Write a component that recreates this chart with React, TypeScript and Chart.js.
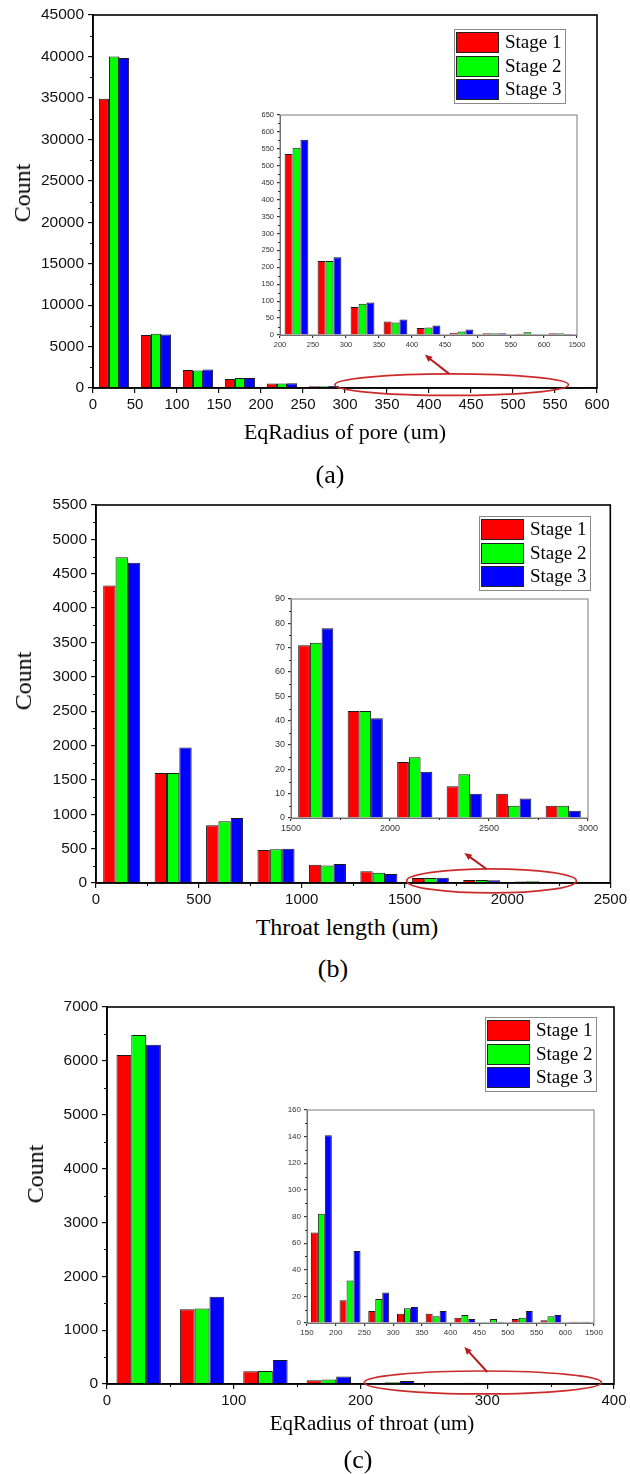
import React, { useEffect, useRef } from "react";
import { Chart, registerables } from "chart.js";

Chart.register(...registerables);

const SANS = "'Liberation Sans', Arial, sans-serif";
const SERIF = "'Liberation Serif', 'Times New Roman', serif";

const stageLabels = ["Stage 1", "Stage 2", "Stage 3"];
const stageColors = ["#ff0000", "#00ff00", "#0000ff"];

// (a) equivalent radius of pores — bin edges (um) and counts per stage
const poreEdges = [0, 50, 100, 150, 200, 250, 300, 350, 400, 450, 500, 550, 600, 1500];
const poreStage1 = [34900, 6400, 2180, 1090, 535, 219, 83, 40, 21, 7, 5, 4, 5];
const poreStage2 = [40000, 6550, 2100, 1210, 553, 219, 92, 37, 22, 10, 5, 8, 5];
const poreStage3 = [39800, 6450, 2220, 1210, 577, 230, 96, 46, 28, 16, 5, 2, 3];

// (b) throat length — bin edges (um) and counts per stage
const lengthEdges = [0, 250, 500, 750, 1000, 1250, 1500, 1750, 2000, 2250, 2500, 2750, 3000];
const lengthStage1 = [4330, 1600, 840, 480, 265, 170, 71, 44, 23, 13, 10, 5];
const lengthStage2 = [4740, 1600, 900, 490, 255, 150, 72, 44, 25, 18, 5, 5];
const lengthStage3 = [4660, 1970, 945, 500, 275, 130, 78, 41, 19, 10, 8, 3];

// (c) equivalent radius of throats — bin edges (um) and counts per stage
const throatEdges = [0, 50, 100, 150, 200, 250, 300, 350, 400, 450, 500, 550, 600, 1500];
const throatStage1 = [6110, 1390, 235, 68, 17, 9, 7, 7, 4, 0, 3, 2, 1];
const throatStage2 = [6480, 1400, 240, 82, 32, 18, 11, 5, 6, 3, 4, 5, 1];
const throatStage3 = [6300, 1620, 445, 141, 54, 23, 12, 9, 3, 1, 9, 6, 1];

type Pt = { x: number; y: number };

// bins lying inside [from, to], placed at their centre value
function binsInRange(edges: number[], counts: number[], from: number, to: number): Pt[] {
  const out: Pt[] = [];
  counts.forEach((c, i) => {
    if (edges[i] >= from && edges[i + 1] <= to) out.push({ x: (edges[i] + edges[i + 1]) / 2, y: c });
  });
  return out;
}

// bins from edge index `first` onward, one equal-width slot per bin
function binsBySlot(counts: number[], first: number): Pt[] {
  return counts.slice(first).map((c, k) => ({ x: k + 0.5, y: c }));
}

function makeDatasets(series: Pt[][], catPct: number) {
  return series.map((data, i) => ({
    label: stageLabels[i],
    data,
    backgroundColor: stageColors[i],
    borderColor: "#1a1a1a",
    borderWidth: 1,
    borderSkipped: "start",
    categoryPercentage: catPct,
    barPercentage: 1,
  }));
}

type AxisOpts = {
  dir: "x" | "y";
  min: number;
  max: number;
  step: number;
  fontSize: number;
  fixed: number;
  tickLen: number;
  pad: number;
  tickColor: string;
  borderColor: string;
  borderWidth: number;
  labelColor: string;
  label?: (v: number) => string;
};

function axis(o: AxisOpts) {
  return {
    type: "linear",
    min: o.min,
    max: o.max,
    offset: false,
    grid: {
      display: true,
      drawOnChartArea: false,
      drawTicks: true,
      tickLength: o.tickLen,
      color: o.tickColor,
      lineWidth: 1.2,
      offset: false,
    },
    border: { display: true, color: o.borderColor, width: o.borderWidth },
    ticks: {
      stepSize: o.step,
      autoSkip: false,
      maxRotation: 0,
      minRotation: 0,
      padding: o.pad,
      color: o.labelColor,
      font: { family: SANS, size: o.fontSize },
      callback: (v: number) => (o.label ? o.label(v) : String(v)),
    },
    afterFit: (s: any) => {
      if (o.dir === "x") s.height = o.fixed;
      else s.width = o.fixed;
    },
  };
}

function framePlugin(color: string, width: number) {
  return {
    id: "frame",
    afterDraw(chart: any) {
      const { ctx, chartArea: a } = chart;
      ctx.save();
      ctx.strokeStyle = color;
      ctx.lineWidth = width;
      ctx.strokeRect(a.left, a.top, a.right - a.left, a.bottom - a.top);
      ctx.restore();
    },
  };
}

type MinorCfg = { xMinor?: number; xMajor?: number; yMinor?: number; yMajor?: number; len: number; color: string };

function minorTicksPlugin(cfg: MinorCfg) {
  const isMajor = (v: number, major?: number) => {
    if (!major) return false;
    const r = Math.abs(v % major);
    return r < 1e-6 || Math.abs(r - major) < 1e-6;
  };
  return {
    id: "minorTicks",
    afterDraw(chart: any) {
      const { ctx, chartArea: a } = chart;
      const xs = chart.scales.x;
      const ys = chart.scales.y;
      ctx.save();
      ctx.strokeStyle = cfg.color;
      ctx.lineWidth = 1.1;
      ctx.beginPath();
      if (cfg.xMinor) {
        for (let v = xs.min; v <= xs.max + 1e-6; v += cfg.xMinor) {
          if (isMajor(v, cfg.xMajor)) continue;
          const p = Math.round(xs.getPixelForValue(v)) + 0.5;
          ctx.moveTo(p, a.bottom);
          ctx.lineTo(p, a.bottom + cfg.len);
        }
      }
      if (cfg.yMinor) {
        for (let v = ys.min; v <= ys.max + 1e-6; v += cfg.yMinor) {
          if (isMajor(v, cfg.yMajor)) continue;
          const p = Math.round(ys.getPixelForValue(v)) + 0.5;
          ctx.moveTo(a.left, p);
          ctx.lineTo(a.left - cfg.len, p);
        }
      }
      ctx.stroke();
      ctx.restore();
    },
  };
}

function legendPlugin(right: number, top: number) {
  return {
    id: "boxLegend",
    afterDraw(chart: any) {
      const { ctx, chartArea: a } = chart;
      const w = 111;
      const h = 74;
      const rowH = 23.5;
      const sw = 43;
      const sh = 21;
      const x0 = Math.round(a.right - right - w);
      const y0 = Math.round(a.top + top);
      ctx.save();
      ctx.fillStyle = "#ffffff";
      ctx.fillRect(x0, y0, w, h);
      ctx.strokeStyle = "#8a8a8a";
      ctx.lineWidth = 1;
      ctx.strokeRect(x0 + 0.5, y0 + 0.5, w, h);
      ctx.font = `19px ${SERIF}`;
      ctx.textBaseline = "middle";
      chart.data.datasets.forEach((ds: any, i: number) => {
        const y = Math.round(y0 + 3 + i * rowH);
        ctx.fillStyle = ds.backgroundColor;
        ctx.fillRect(x0 + 2, y, sw, sh);
        ctx.strokeStyle = "#222";
        ctx.strokeRect(x0 + 2.5, y + 0.5, sw - 1, sh - 1);
        ctx.fillStyle = "#000";
        ctx.fillText(ds.label, x0 + 2 + sw + 6, y + sh / 2 + 1);
      });
      ctx.restore();
    },
  };
}

type Callout = { x0: number; x1: number; yc: number; ry: number; ax0: number; ay0: number; ax1: number; ay1: number };

// red ellipse around the zoomed range and an arrow pointing at the inset
function calloutPlugin(c: Callout) {
  return {
    id: "callout",
    afterDraw(chart: any) {
      const { ctx } = chart;
      const xs = chart.scales.x;
      const ys = chart.scales.y;
      const px0 = xs.getPixelForValue(c.x0);
      const px1 = xs.getPixelForValue(c.x1);
      const cy = ys.getPixelForValue(c.yc);
      const ry = ys.getPixelForValue(0) - ys.getPixelForValue(c.ry);
      ctx.save();
      ctx.strokeStyle = "#cc2b2b";
      ctx.lineWidth = 1.7;
      ctx.beginPath();
      ctx.ellipse((px0 + px1) / 2, cy, (px1 - px0) / 2, ry, 0, 0, Math.PI * 2);
      ctx.stroke();
      const sx = xs.getPixelForValue(c.ax0);
      const sy = ys.getPixelForValue(c.ay0);
      const ex = xs.getPixelForValue(c.ax1);
      const ey = ys.getPixelForValue(c.ay1);
      const ang = Math.atan2(ey - sy, ex - sx);
      const head = 8;
      ctx.strokeStyle = "#b51d1d";
      ctx.fillStyle = "#b51d1d";
      ctx.lineWidth = 2;
      ctx.beginPath();
      ctx.moveTo(sx, sy);
      ctx.lineTo(ex - Math.cos(ang) * head * 0.7, ey - Math.sin(ang) * head * 0.7);
      ctx.stroke();
      ctx.beginPath();
      ctx.moveTo(ex, ey);
      ctx.lineTo(ex - head * Math.cos(ang - 0.42), ey - head * Math.sin(ang - 0.42));
      ctx.lineTo(ex - head * Math.cos(ang + 0.42), ey - head * Math.sin(ang + 0.42));
      ctx.closePath();
      ctx.fill();
      ctx.restore();
    },
  };
}

type Box = { left: number; top: number; width: number; height: number };
// plot area in page coordinates
type Area = { L: number; T: number; R: number; B: number };

function baseOptions(box: Box, area: Area, x: any, y: any) {
  return {
    animation: false,
    responsive: false,
    devicePixelRatio: 1,
    layout: {
      padding: { left: 0, top: area.T - box.top, right: box.left + box.width - area.R, bottom: 0 },
    },
    plugins: { legend: { display: false }, tooltip: { enabled: false } },
    scales: { x, y },
  };
}

type MainSpec = {
  box: Box;
  area: Area;
  series: Pt[][];
  catPct: number;
  xMax: number;
  xStep: number;
  xMinor?: number;
  yMax: number;
  yStep: number;
  yMinor: number;
  legend: { right: number; top: number };
  callout: Callout;
};

function mainConfig(s: MainSpec) {
  const { box, area } = s;
  const x = axis({
    dir: "x", min: 0, max: s.xMax, step: s.xStep, fontSize: 15, fixed: box.top + box.height - area.B,
    tickLen: 5, pad: 3, tickColor: "#111", borderColor: "#000", borderWidth: 1.6, labelColor: "#111",
  });
  const y = axis({
    dir: "y", min: 0, max: s.yMax, step: s.yStep, fontSize: 15.5, fixed: area.L - box.left,
    tickLen: 5, pad: 4, tickColor: "#111", borderColor: "#000", borderWidth: 1.6, labelColor: "#111",
  });
  return {
    type: "bar",
    data: { datasets: makeDatasets(s.series, s.catPct) },
    options: baseOptions(box, area, x, y),
    plugins: [
      framePlugin("#000", 1.6),
      minorTicksPlugin({ xMinor: s.xMinor, xMajor: s.xStep, yMinor: s.yMinor, yMajor: s.yStep, len: 3, color: "#111" }),
      legendPlugin(s.legend.right, s.legend.top),
      calloutPlugin(s.callout),
    ],
  };
}

type InsetSpec = {
  box: Box;
  area: Area;
  series: Pt[][];
  catPct: number;
  xMin: number;
  xMax: number;
  xStep: number;
  xMinor?: number;
  xLabel?: (v: number) => string;
  yMax: number;
  yStep: number;
  yMinor: number;
  fontSize: number;
};

function insetConfig(s: InsetSpec) {
  const { box, area } = s;
  const x = axis({
    dir: "x", min: s.xMin, max: s.xMax, step: s.xStep, fontSize: s.fontSize, fixed: box.top + box.height - area.B,
    tickLen: 3, pad: 2, tickColor: "#333", borderColor: "#666", borderWidth: 1, labelColor: "#333", label: s.xLabel,
  });
  const y = axis({
    dir: "y", min: 0, max: s.yMax, step: s.yStep, fontSize: s.fontSize, fixed: area.L - box.left,
    tickLen: 3, pad: 3, tickColor: "#333", borderColor: "#666", borderWidth: 1, labelColor: "#333",
  });
  return {
    type: "bar",
    data: { datasets: makeDatasets(s.series, s.catPct) },
    options: baseOptions(box, area, x, y),
    plugins: [
      framePlugin("#7a7a7a", 1),
      minorTicksPlugin({ xMinor: s.xMinor, xMajor: s.xStep, yMinor: s.yMinor, yMajor: s.yStep, len: 2, color: "#333" }),
    ],
  };
}

function ChartBox({ box, build }: { box: Box; build: () => any }) {
  const ref = useRef<HTMLCanvasElement>(null);
  useEffect(() => {
    const chart = new Chart(ref.current as HTMLCanvasElement, build());
    return () => chart.destroy();
  }, []);
  return (
    <canvas
      ref={ref}
      width={box.width}
      height={box.height}
      style={{ position: "absolute", left: box.left, top: box.top, width: box.width, height: box.height }}
    />
  );
}

function Text({ x, y, size, rotate, children }: { x: number; y: number; size: number; rotate?: boolean; children: React.ReactNode }) {
  return (
    <div
      style={{
        position: "absolute",
        left: x,
        top: y,
        transform: `translate(-50%, -50%)${rotate ? " rotate(-90deg)" : ""}`,
        fontFamily: SERIF,
        fontSize: size,
        lineHeight: 1,
        whiteSpace: "nowrap",
        color: "#000",
      }}
    >
      {children}
    </div>
  );
}

const poreInsetLabels = poreEdges.slice(4).map(String);
const throatInsetLabels = throatEdges.slice(3).map(String);

export default function App() {
  const mainA: MainSpec = {
    box: { left: 0, top: 0, width: 630, height: 420 },
    area: { L: 93, T: 15, R: 597, B: 388 },
    series: [poreStage1, poreStage2, poreStage3].map((c) => binsInRange(poreEdges, c, 0, 600)),
    catPct: 0.72,
    xMax: 600,
    xStep: 50,
    yMax: 45000,
    yStep: 5000,
    yMinor: 2500,
    legend: { right: 32, top: 14 },
    callout: { x0: 288, x1: 566, yc: 400, ry: 1300, ax0: 424, ay0: 1700, ax1: 395, ay1: 4000 },
  };
  const insetA: InsetSpec = {
    box: { left: 230, top: 100, width: 360, height: 260 },
    area: { L: 280, T: 115, R: 577, B: 335 },
    series: [poreStage1, poreStage2, poreStage3].map((c) => binsBySlot(c, 4)),
    catPct: 0.72,
    xMin: 0,
    xMax: poreInsetLabels.length - 1,
    xStep: 1,
    xLabel: (v) => poreInsetLabels[v] ?? "",
    yMax: 650,
    yStep: 50,
    yMinor: 25,
    fontSize: 7.5,
  };
  const mainB: MainSpec = {
    box: { left: 0, top: 490, width: 630, height: 420 },
    area: { L: 96, T: 505, R: 611, B: 883 },
    series: [lengthStage1, lengthStage2, lengthStage3].map((c) => binsInRange(lengthEdges, c, 0, 2500)),
    catPct: 0.72,
    xMax: 2500,
    xStep: 500,
    xMinor: 250,
    yMax: 5500,
    yStep: 500,
    yMinor: 250,
    legend: { right: 20, top: 11 },
    callout: { x0: 1510, x1: 2335, yc: 30, ry: 175, ax0: 1898, ay0: 203, ax1: 1791, ay1: 436 },
  };
  const insetB: InsetSpec = {
    box: { left: 240, top: 585, width: 360, height: 255 },
    area: { L: 291, T: 599, R: 588, B: 818 },
    series: [lengthStage1, lengthStage2, lengthStage3].map((c) => binsInRange(lengthEdges, c, 1500, 3000)),
    catPct: 0.71,
    xMin: 1500,
    xMax: 3000,
    xStep: 500,
    xMinor: 250,
    yMax: 90,
    yStep: 10,
    yMinor: 5,
    fontSize: 9,
  };
  const mainC: MainSpec = {
    box: { left: 0, top: 992, width: 630, height: 420 },
    area: { L: 107, T: 1007, R: 614, B: 1384 },
    series: [throatStage1, throatStage2, throatStage3].map((c) => binsInRange(throatEdges, c, 0, 400)),
    catPct: 0.7,
    xMax: 400,
    xStep: 100,
    xMinor: 50,
    yMax: 7000,
    yStep: 1000,
    yMinor: 500,
    legend: { right: 18, top: 10 },
    callout: { x0: 203, x1: 390, yc: 28, ry: 213, ax0: 300, ay0: 223, ax1: 282, ay1: 686 },
  };
  const insetC: InsetSpec = {
    box: { left: 260, top: 1095, width: 350, height: 250 },
    area: { L: 307, T: 1110, R: 594, B: 1323 },
    series: [throatStage1, throatStage2, throatStage3].map((c) => binsBySlot(c, 3)),
    catPct: 0.73,
    xMin: 0,
    xMax: throatInsetLabels.length - 1,
    xStep: 1,
    xLabel: (v) => throatInsetLabels[v] ?? "",
    yMax: 160,
    yStep: 20,
    yMinor: 10,
    fontSize: 8,
  };

  return (
    <div style={{ position: "absolute", left: 0, top: 0, width: 630, height: 1474, background: "#fff", overflow: "hidden" }}>
      <ChartBox box={mainA.box} build={() => mainConfig(mainA)} />
      <ChartBox box={insetA.box} build={() => insetConfig(insetA)} />
      <Text x={22} y={193} size={24} rotate>Count</Text>
      <Text x={345} y={432} size={22}>EqRadius of pore (um)</Text>
      <Text x={330} y={475} size={26}>(a)</Text>

      <ChartBox box={mainB.box} build={() => mainConfig(mainB)} />
      <ChartBox box={insetB.box} build={() => insetConfig(insetB)} />
      <Text x={23} y={681} size={24} rotate>Count</Text>
      <Text x={347} y={927} size={24}>Throat length (um)</Text>
      <Text x={333} y={969} size={26}>(b)</Text>

      <ChartBox box={mainC.box} build={() => mainConfig(mainC)} />
      <ChartBox box={insetC.box} build={() => insetConfig(insetC)} />
      <Text x={35} y={1174} size={24} rotate>Count</Text>
      <Text x={372} y={1423} size={21}>EqRadius of throat (um)</Text>
      <Text x={358} y={1460} size={26}>(c)</Text>
    </div>
  );
}
